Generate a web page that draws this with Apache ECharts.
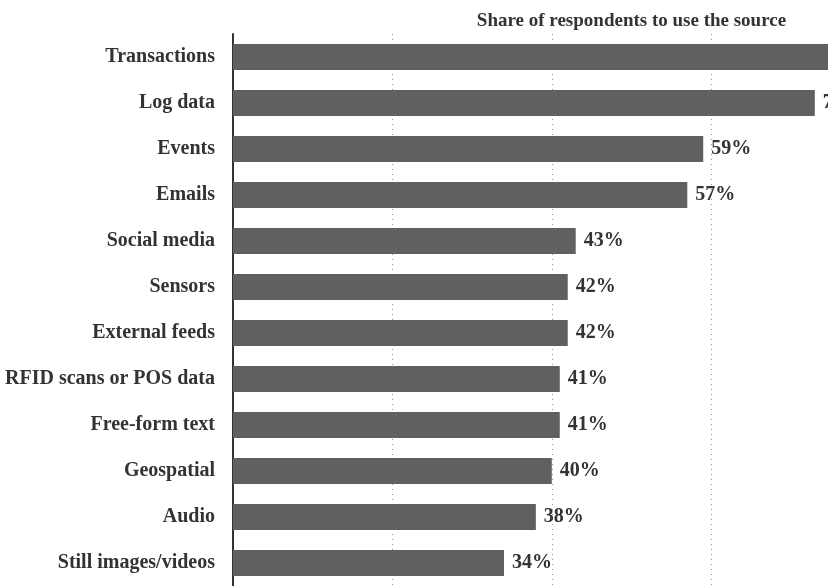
<!DOCTYPE html>
<html>
<head>
<meta charset="utf-8">
<script src="https://cdn.jsdelivr.net/npm/echarts@6/dist/echarts.min.js"></script>
<style>
  html, body { margin: 0; padding: 0; background: #fff; }
  #chart { width: 828px; height: 586px; }
</style>
</head>
<body>
<div id="chart"></div>
<script>
// Data sources used by respondents (share, %)
const categories = [
  'Transactions', 'Log data', 'Events', 'Emails', 'Social media', 'Sensors',
  'External feeds', 'RFID scans or POS data', 'Free-form text', 'Geospatial',
  'Audio', 'Still images/videos'
];
const shares = [88, 73, 59, 57, 43, 42, 42, 41, 41, 40, 38, 34];
const axisTitle = 'Share of respondents to use the source';

const serif = '"Liberation Serif", "DejaVu Serif", serif';

const chart = echarts.init(document.getElementById('chart'));
chart.setOption({
  animation: false,
  backgroundColor: '#fff',
  // the value axis runs past the right edge of the canvas
  grid: { left: 233, top: 34, right: -202, bottom: 0, containLabel: false, outerBoundsMode: 'none' },
  xAxis: {
    type: 'value',
    position: 'top',
    min: 0,
    max: 100,
    interval: 20,
    name: axisTitle,
    nameLocation: 'middle',
    nameGap: 3,
    nameTextStyle: { fontFamily: serif, fontWeight: 'bold', fontSize: 19, color: '#333' },
    axisLine: { show: false },
    axisTick: { show: false },
    axisLabel: { show: false },
    splitLine: { show: true, lineStyle: { color: '#999', type: [1, 4], width: 1 } }
  },
  yAxis: {
    type: 'category',
    inverse: true,
    data: categories,
    axisLine: { show: true, lineStyle: { color: '#333', width: 2 } },
    axisTick: { show: false },
    axisLabel: { margin: 18, fontFamily: serif, fontWeight: 'bold', fontSize: 20, color: '#333' },
    splitLine: { show: false }
  },
  series: [{
    type: 'bar',
    data: shares,
    barWidth: 26,
    itemStyle: { color: '#606060' },
    label: {
      show: true,
      position: 'right',
      distance: 8,
      formatter: '{c}%',
      fontFamily: serif,
      fontWeight: 'bold',
      fontSize: 20,
      color: '#333'
    }
  }]
});
</script>
</body>
</html>
